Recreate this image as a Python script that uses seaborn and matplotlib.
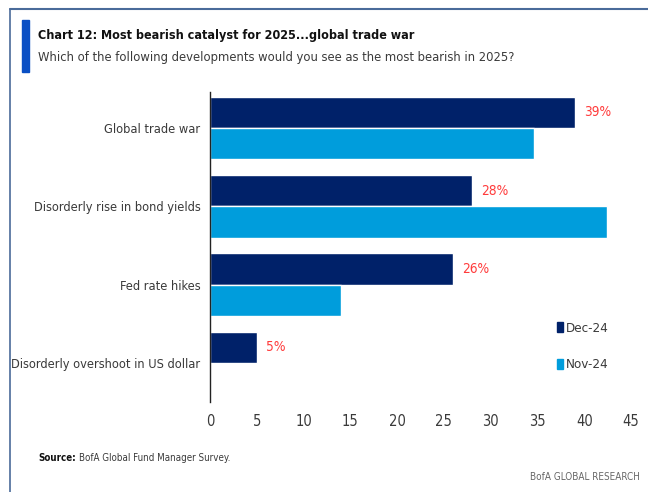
import matplotlib
matplotlib.use("Agg")
import matplotlib.pyplot as plt
import seaborn as sns
import pandas as pd
from matplotlib.patches import Rectangle
from matplotlib.lines import Line2D

categories = ["Global trade war", "Disorderly rise in bond yields", "Fed rate hikes",
              "Disorderly overshoot in US dollar"]
dec_24 = [39, 28, 26, 5]
nov_24 = [34.6, 42.4, 14, 0]
series = ["Dec-24", "Nov-24"]
xticks = [0, 5, 10, 15, 20, 25, 30, 35, 40, 45]

df = pd.DataFrame({
    "category": categories * 2,
    "value": dec_24 + nov_24,
    "series": [series[0]] * 4 + [series[1]] * 4,
})

sns.set_theme(style="white")
plt.rcParams['font.family'] = ['DejaVu Sans']
plt.rcParams['font.stretch'] = 'condensed'

NAVY = "#002169"
LIGHT = "#009DDC"
TXT = "#3a3a3a"

fig = plt.figure(figsize=(6.48, 4.92), dpi=100)
ax = fig.add_axes([210/648, 1-402/492, 421/648, 310/492])

sns.barplot(data=df, y="category", x="value", hue="series", order=categories,
            hue_order=series, palette=[NAVY, LIGHT], orient="h", ax=ax,
            width=0.8, saturation=1, legend=False)

ax.set_xlim(0, 45)
ax.set_ylim(3.5, -0.46)
ax.set_xticks(xticks)
ax.set_xticklabels([str(t) for t in xticks], fontsize=10.5, color=TXT)
ax.tick_params(axis="y", labelsize=9.2, labelcolor=TXT, length=0, pad=7)
ax.tick_params(axis="x", length=0, pad=9)
ax.set_xlabel("")
ax.set_ylabel("")
for s in ["top", "right", "bottom"]:
    ax.spines[s].set_visible(False)
ax.spines["left"].set_color("#222222")
ax.spines["left"].set_linewidth(1.0)

for i, v in enumerate(dec_24):
    ax.text(v + 1.0, i - 0.2, f"{v}%", color="#FF3B3B", fontsize=9.8,
            va="center", ha="left")

handles = [Rectangle((0, 0), 1, 1, color=NAVY), Rectangle((0, 0), 1, 1, color=LIGHT)]
fig.legend(handles, series, loc="upper left", bbox_to_anchor=(545/648, 1-310/492),
           frameon=False, fontsize=9.6, handlelength=0.45, handleheight=0.8,
           handletextpad=0.25, labelspacing=1.75, labelcolor=TXT)

fig.add_artist(Line2D([10/648, 10/648], [0, 1-9/492], color="#4a6b9a", lw=1.2))
fig.add_artist(Line2D([10/648, 1], [1-9/492, 1-9/492], color="#4a6b9a", lw=1.5))
fig.add_artist(Rectangle((22/648, 1-72/492), 7/648, 52/492, color="#0A4FC4",
                         transform=fig.transFigure))

fig.text(38/648, 1-35/492, "Chart 12: Most bearish catalyst for 2025...global trade war",
         fontsize=9.0, fontweight="bold", color="#111111", va="center")
fig.text(38/648, 1-58/492,
         "Which of the following developments would you see as the most bearish in 2025?",
         fontsize=9.3, color=TXT, va="center")
t1 = fig.text(38/648, 1-458/492, "Source:", fontsize=7, fontweight="bold",
              color="#111111", va="center")
fig.canvas.draw()
bb = t1.get_window_extent()
fig.text((bb.x1 + 3) / 648, 1-458/492, "BofA Global Fund Manager Survey.",
         fontsize=7, color=TXT, va="center")
fig.text(640/648, 1-477/492, "BofA GLOBAL RESEARCH", fontsize=7.1, color="#666666",
         va="center", ha="right")

fig.savefig("out.png", dpi=100)
